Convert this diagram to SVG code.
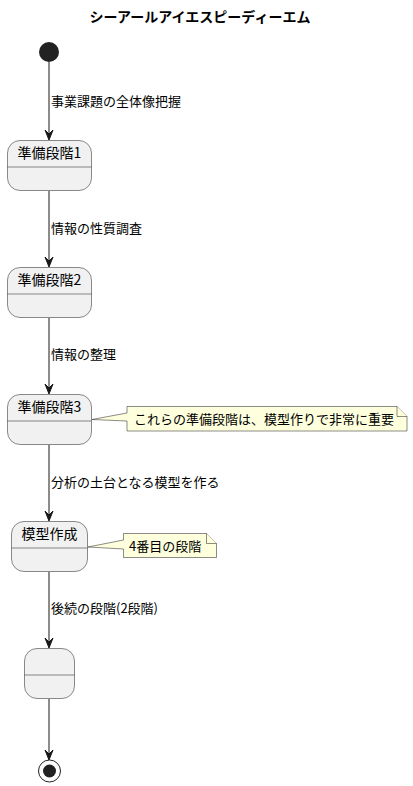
<svg xmlns="http://www.w3.org/2000/svg" width="413" height="786" viewBox="0 0 413 786">
<style>
text{font-family:"Noto Sans CJK JP","Noto Sans",sans-serif;fill:#000}
.title{font-size:14px;font-weight:bold;text-anchor:middle}
.st{fill:#F1F1F1;stroke:#181818;stroke-width:0.5}
.sep{stroke:#181818;stroke-width:0.5}
.sn{font-size:14px;text-anchor:middle}
.lbl{font-size:13px}
.note{fill:#FEFFDD;stroke:#181818;stroke-width:0.5}
.nt{font-size:13px}
.edge{stroke:#181818;stroke-width:1;fill:none}
.ah{fill:#181818;stroke:#181818;stroke-width:1}
</style>
<defs>
<polygon id="arrow" points="-4,-10 0,0 4,-10 0,-6"/>
</defs>
<text class="title" x="200" y="22">シーアールアイエスピーディーエム</text>

<g id="start"><circle cx="49" cy="52" r="10" fill="#222222"/></g>

<g id="s1">
<rect class="st" x="7.5" y="140.5" width="84" height="50" rx="12.5"/>
<line class="sep" x1="7.5" y1="167" x2="91.5" y2="167"/>
<text class="sn" x="49.5" y="158">準備段階1</text>
</g>
<g id="s2">
<rect class="st" x="7.5" y="267.5" width="84" height="50" rx="12.5"/>
<line class="sep" x1="7.5" y1="294" x2="91.5" y2="294"/>
<text class="sn" x="49.5" y="285">準備段階2</text>
</g>
<g id="s3">
<rect class="st" x="7.5" y="394.5" width="84" height="50" rx="12.5"/>
<line class="sep" x1="7.5" y1="421" x2="91.5" y2="421"/>
<text class="sn" x="49.5" y="412">準備段階3</text>
</g>
<g id="s4">
<rect class="st" x="11.5" y="521.5" width="76" height="50" rx="12.5"/>
<line class="sep" x1="11.5" y1="548" x2="87.5" y2="548"/>
<text class="sn" x="49.5" y="539">模型作成</text>
</g>
<g id="s5">
<rect class="st" x="24.5" y="648.5" width="50" height="50" rx="12.5"/>
<line class="sep" x1="24.5" y1="675" x2="74.5" y2="675"/>
</g>
<g id="end">
<circle cx="49.5" cy="771" r="11" fill="none" stroke="#222222" stroke-width="1"/>
<circle cx="49.5" cy="771" r="6.5" fill="#222222"/>
</g>

<g id="n1">
<path class="note" d="M127,406.5 L127,413 L92,419.5 L127,421 L127,431 L407,431 L407,416.5 L397,406.5 Z"/>
<path class="note" d="M397,406.5 L397,416.5 L407,416.5"/>
<text class="nt" x="134" y="424">これらの準備段階は、模型作りで非常に重要</text>
</g>
<g id="n2">
<path class="note" d="M123.5,533.5 L123.5,540 L88,547 L123.5,549 L123.5,557.5 L216.5,557.5 L216.5,543.5 L206.5,533.5 Z"/>
<path class="note" d="M206.5,533.5 L206.5,543.5 L216.5,543.5"/>
<text class="nt" x="129" y="551">4番目の段階</text>
</g>

<g id="edges">
<line class="edge" x1="49" y1="62" x2="49" y2="139"/>
<use href="#arrow" class="ah" x="49" y="140"/>
<text class="lbl" x="51" y="106">事業課題の全体像把握</text>

<line class="edge" x1="49" y1="191" x2="49" y2="266"/>
<use href="#arrow" class="ah" x="49" y="267"/>
<text class="lbl" x="51" y="233">情報の性質調査</text>

<line class="edge" x1="49" y1="318" x2="49" y2="393"/>
<use href="#arrow" class="ah" x="49" y="394"/>
<text class="lbl" x="51" y="359">情報の整理</text>

<line class="edge" x1="49" y1="445" x2="49" y2="520"/>
<use href="#arrow" class="ah" x="49" y="521"/>
<text class="lbl" x="51" y="487">分析の土台となる模型を作る</text>

<line class="edge" x1="49" y1="572" x2="49" y2="647"/>
<use href="#arrow" class="ah" x="49" y="648"/>
<text class="lbl" x="51" y="613">後続の段階(2段階)</text>

<line class="edge" x1="49" y1="699" x2="49" y2="759"/>
<use href="#arrow" class="ah" x="49" y="760"/>
</g>
</svg>
